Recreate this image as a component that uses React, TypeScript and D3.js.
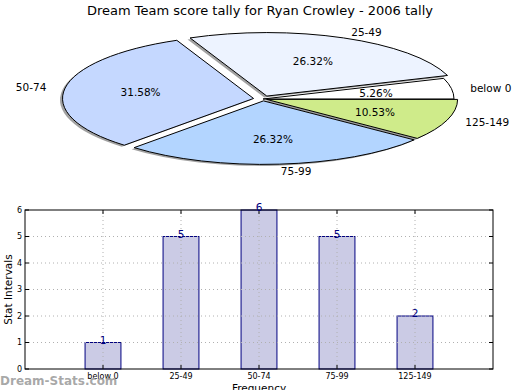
import React from "react";
import * as d3 from "d3";

const title = "Dream Team score tally for Ryan Crowley - 2006 tally";
const categories = ["below 0", "25-49", "50-74", "75-99", "125-149"];
const counts = [1, 5, 6, 5, 2];
const pieColors = ["#FFFFFF", "#EDF3FF", "#C5D8FF", "#B3D5FF", "#CFEB8A"];
const explode = [0, 0.05, 0.05, 0.03, 0.02];
const yTicks = [0, 1, 2, 3, 4, 5, 6];

const FONT = "DejaVu Sans";

function App() {
  const W = 520, H = 390;
  const cx = 263, cy = 99, rx = 191, ry = 63.5;
  const total = d3.sum(counts);
  const pie = d3.pie<number>().sort(null).startAngle(Math.PI / 2).endAngle(Math.PI / 2 - 2 * Math.PI);
  const arcs = pie(counts);
  const arc = d3.arc<d3.PieArcDatum<number>>().innerRadius(0).outerRadius(1);
  const info = arcs.map((a, i) => {
    const mid = Math.PI / 2 - (a.startAngle + a.endAngle) / 2;
    const e = explode[i];
    return {
      a,
      ox: e * Math.cos(mid) * rx,
      oy: -e * Math.sin(mid) * ry,
      px: cx + (0.6 + e) * Math.cos(mid) * rx,
      py: cy - (0.6 + e) * Math.sin(mid) * ry,
      lx: cx + (1.1 + e) * Math.cos(mid) * rx,
      ly: cy - (1.1 + e) * Math.sin(mid) * ry,
      right: Math.cos(mid) >= 0,
    };
  });

  // bar chart
  const x = d3.scaleLinear().domain([0, 6]).range([25, 493]);
  const y = d3.scaleLinear().domain([0, 6]).range([369, 210]);
  const barW = x(0.46) - x(0);

  return (
    <svg width={W} height={H} style={{ position: "absolute", left: 0, top: 0 }} fontFamily={FONT}>
      <rect width={W} height={H} fill="#fff" />
      <text x={260} y={15} textAnchor="middle" fontSize={13} fill="#000">{title}</text>
      {info.map((d, i) => (
        <path key={"s" + i} d={arc(d.a) || ""} fill="#444" fillOpacity={0.5}
          transform={`translate(${cx + d.ox - 2.5},${cy + d.oy + 1.5}) scale(${rx},${ry})`} />
      ))}
      {info.map((d, i) => (
        <path key={"p" + i} d={arc(d.a) || ""} fill={pieColors[i]} stroke="#000" strokeWidth={1}
          vectorEffect="non-scaling-stroke"
          transform={`translate(${cx + d.ox},${cy + d.oy}) scale(${rx},${ry})`} />
      ))}
      {info.map((d, i) => (
        <text key={"pc" + i} x={d.px} y={d.py} textAnchor="middle" dominantBaseline="central" fontSize={10.5}>
          {((counts[i] / total) * 100).toFixed(2) + "%"}
        </text>
      ))}
      {info.map((d, i) => (
        <text key={"lb" + i} x={d.lx} y={d.ly} textAnchor={d.right ? "start" : "end"} dominantBaseline="central" fontSize={10.5}>
          {categories[i]}
        </text>
      ))}

      {/* bar chart */}
      {counts.map((v, i) => (
        <rect key={"b" + i} x={x(i + 1) - barW / 2} y={y(v)} width={barW} height={y(0) - y(v)}
          fill="#CBCBE5" stroke="#000080" strokeWidth={1} />
      ))}
      {yTicks.slice(1, -1).map((t) => (
        <line key={"gy" + t} x1={x(0)} x2={x(6)} y1={y(t)} y2={y(t)} stroke="#B0B0B0" strokeDasharray="1,3" />
      ))}
      {categories.map((c, i) => (
        <line key={"gx" + i} x1={x(i + 1)} x2={x(i + 1)} y1={y(0)} y2={y(6)} stroke="#B0B0B0" strokeDasharray="1,3" />
      ))}
      <rect x={x(0)} y={y(6)} width={x(6) - x(0)} height={y(0) - y(6)} fill="none" stroke="#000" strokeWidth={1} />
      {yTicks.map((t) => (
        <g key={"yt" + t}>
          <line x1={x(0)} x2={x(0) + 4} y1={y(t)} y2={y(t)} stroke="#000" />
          <line x1={x(6)} x2={x(6) - 4} y1={y(t)} y2={y(t)} stroke="#000" />
          <text x={x(0) - 3} y={y(t)} textAnchor="end" dominantBaseline="central" fontSize={8}>{t}</text>
        </g>
      ))}
      {categories.map((c, i) => (
        <g key={"xt" + i}>
          <line x1={x(i + 1)} x2={x(i + 1)} y1={y(0)} y2={y(0) - 4} stroke="#000" />
          <line x1={x(i + 1)} x2={x(i + 1)} y1={y(6)} y2={y(6) + 4} stroke="#000" />
          <text x={x(i + 1)} y={y(0) + 10} textAnchor="middle" fontSize={8}>{c}</text>
        </g>
      ))}
      {counts.map((v, i) => (
        <text key={"v" + i} x={x(i + 1)} y={y(v) + 1} textAnchor="middle" fontSize={10.5} fill="#000080">{v}</text>
      ))}
      <text transform={`translate(12,${(y(0) + y(6)) / 2}) rotate(-90)`} textAnchor="middle" fontSize={10.5}>Stat Intervals</text>
      <text x={(x(0) + x(6)) / 2} y={392} textAnchor="middle" fontSize={10.5}>Frequency</text>
      <text x={0} y={385} fontSize={12} fontWeight="bold" fill="#999" fillOpacity={0.85}>Dream-Stats.com</text>
    </svg>
  );
}

export default App;
